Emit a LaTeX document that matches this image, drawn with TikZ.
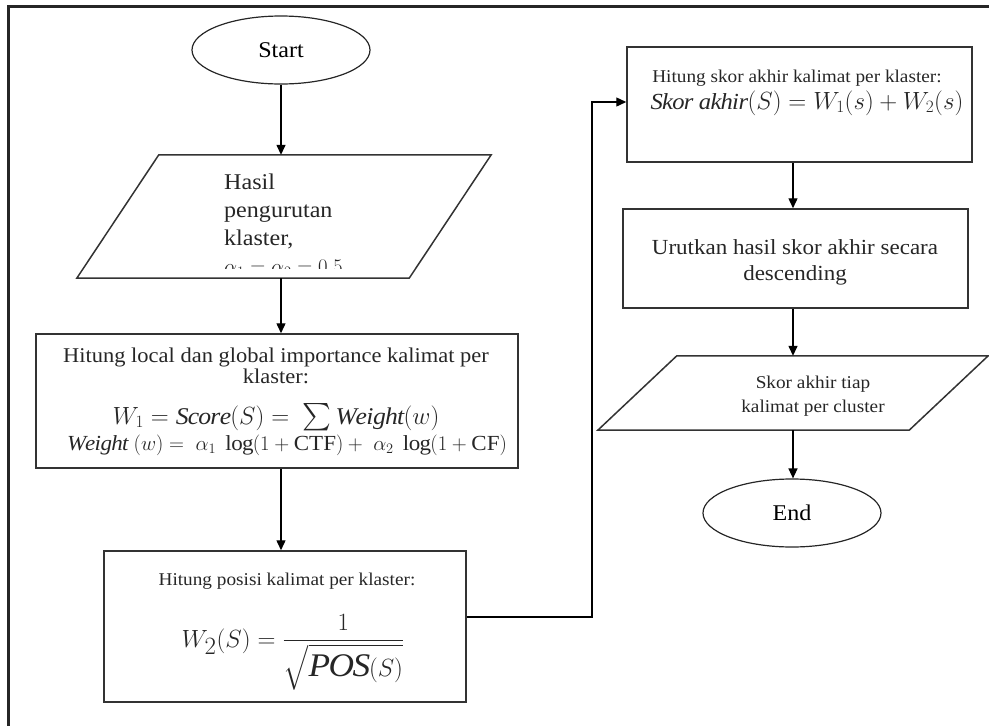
\documentclass[tikz,border=0pt]{standalone}
\usepackage{fontspec}
\setmainfont[FakeStretch=1.07]{Liberation Serif}
\usepackage{amsmath}
\usetikzlibrary{arrows.meta,shapes.geometric,calc}
\begin{document}
\begin{tikzpicture}[x=1pt,y=-1pt,
  boxline/.style={draw=black!80,line width=1.5pt},
  box/.style={boxline,rectangle,inner sep=0pt},
  term/.style={draw=black!85,line width=1.2pt,ellipse,inner sep=0pt,minimum width=178pt,minimum height=68pt,font=\fontsize{22.5}{26}\selectfont},
  flow/.style={line width=1.4pt,black,-{Triangle[length=10pt,width=9pt]}},
  iobox/.style={rectangle,inner sep=0pt},
  txt/.style={inner sep=0pt,align=center,text=black!85}
]
\useasboundingbox (0,0) rectangle (989,726);
\draw[line width=3pt,black!85] (8.5,740) -- (8.5,6.5) -- (1000,6.5);

% left column
\node[term] (start) at (281,50) {Start};

\node[iobox,minimum width=332pt,minimum height=123pt] (in1) at (284,216.5) {};
\draw[boxline] ([xshift=-41pt]in1.south west) -- ([xshift=41pt]in1.north west) -- ([xshift=41pt]in1.north east) -- ([xshift=-41pt]in1.south east) -- cycle;
\begin{scope}
\clip (150,160) rectangle (430,268);
\node[txt,anchor=north west,align=left,font=\fontsize{22.5}{28}\selectfont] (in1txt) at (224,174) {Hasil\\pengurutan\\klaster,\\$\alpha_1=\alpha_2=0.5$};
\end{scope}

\node[box,minimum width=482pt,minimum height=134pt] (b2) at (277,401) {};
\node[txt,anchor=base,font=\fontsize{21}{21}\selectfont] (b2t) at (276,383) {Hitung local dan global importance kalimat per\\klaster:};
\node[txt,anchor=base,font=\fontsize{24}{26}\selectfont] (b2f1) at (276,424) {$W_1 = \mathit{Score}(S) =\ \scalebox{1.1}{$\sum$}\, \mathit{Weight}(w)$};
\node[txt,anchor=base,font=\fontsize{21.5}{23}\selectfont] (b2f2) at (287,450) {$\mathit{Weight}\ (w) =\ \alpha_1\ \log(1+\text{CTF}) +\ \alpha_2\ \log(1+\text{CF})$};

\node[box,minimum width=362pt,minimum height=151pt] (b3) at (285,626.5) {};
\node[txt,anchor=base,font=\fontsize{18}{20}\selectfont] (b3t) at (287,585) {Hitung posisi kalimat per klaster:};
\node[txt,anchor=base,font=\fontsize{33}{36}\selectfont] (b3f) at (293,647) {$\displaystyle W_2(S) = \frac{1}{\sqrt{\mathit{POS}(S)}}$};

% right column
\node[box,minimum width=345pt,minimum height=115pt] (b4) at (799.5,104.5) {};
\node[txt,anchor=base,font=\fontsize{18}{20}\selectfont] (b4t) at (797,82) {Hitung skor akhir kalimat per klaster:};
\node[txt,anchor=base,font=\fontsize{23}{26}\selectfont] (b4f) at (807,109) {$\mathit{Skor\ akhir}(S) = W_1(s) + W_2(s)$};

\node[box,minimum width=345pt,minimum height=99pt] (b5) at (795.5,258.5) {};
\node[txt,anchor=base,font=\fontsize{21.5}{26}\selectfont] (b5t) at (795,280) {Urutkan hasil skor akhir secara\\descending};

\node[iobox,minimum width=311pt,minimum height=74pt] (in2) at (793,393) {};
\draw[boxline] ([xshift=-39.5pt]in2.south west) -- ([xshift=39.5pt]in2.north west) -- ([xshift=39.5pt]in2.north east) -- ([xshift=-39.5pt]in2.south east) -- cycle;
\node[txt,anchor=base,font=\fontsize{18}{24}\selectfont] (in2t) at (813,412) {Skor akhir tiap\\kalimat per cluster};

\node[term] (end) at (792,513) {End};

% connectors
\draw[flow] (start.south) -- (start.south |- in1.north);
\draw[flow] (start.south |- in1.south) -- (start.south |- b2.north);
\draw[flow] (start.south |- b2.south) -- (start.south |- b3.north);
\coordinate (bend) at (592,617);
\draw[flow] (bend -| b3.east) -- (bend) |- ([yshift=2.5pt]b4.west);
\draw[flow] (in2.center |- b4.south) -- (in2.center |- b5.north);
\draw[flow] (in2.center |- b5.south) -- (in2.north);
\draw[flow] (in2.south) -- (in2.south |- end.north);
\end{tikzpicture}
\end{document}
